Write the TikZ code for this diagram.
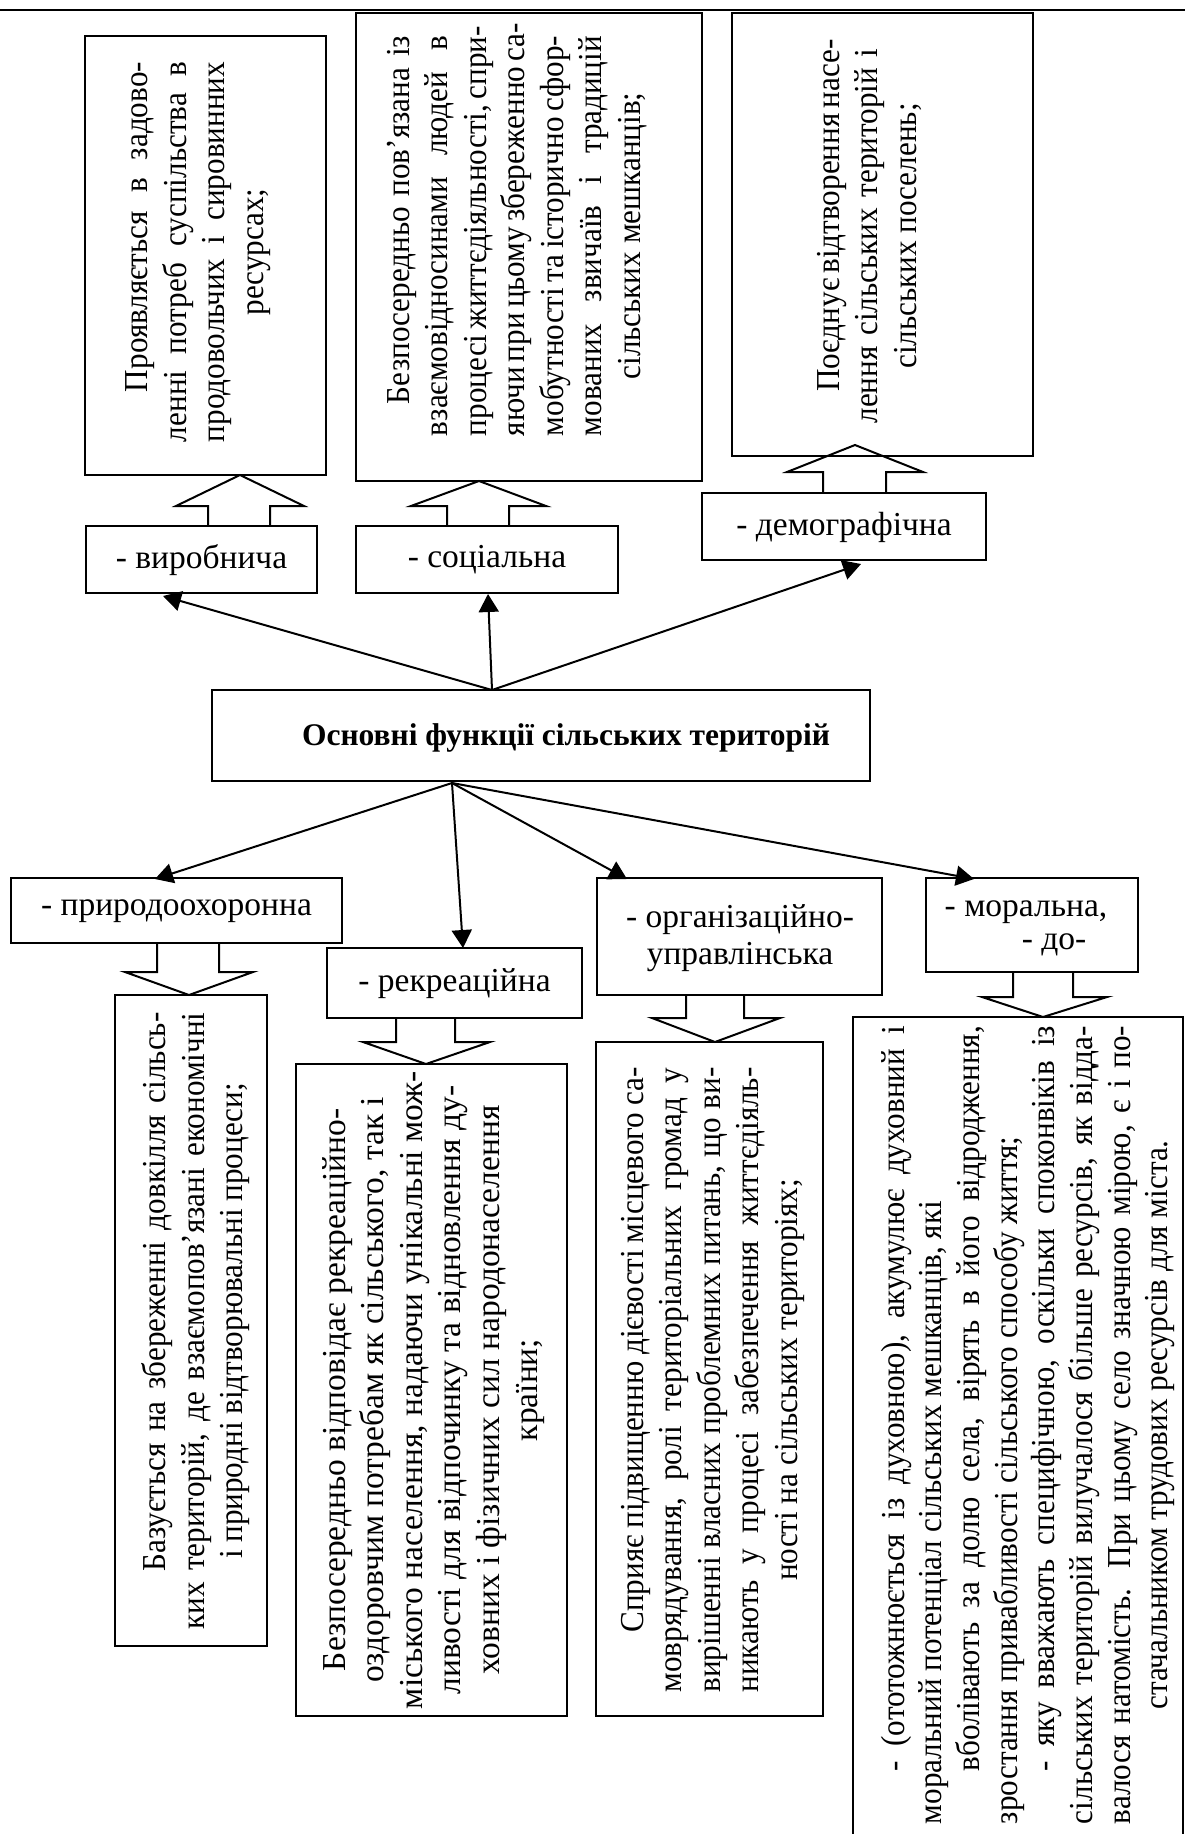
\documentclass[tikz,border=0pt]{standalone}
\usepackage{fontspec}
\setmainfont{Liberation Serif}
\newfontfamily\descfont[FakeStretch=0.93]{Liberation Serif}
\newfontfamily\descfontn{Liberation Serif}
\usetikzlibrary{arrows.meta}
\newcommand\linej[1]{\hbox to \hsize{#1}}
\newcommand\linei[2][50pt]{\hbox to \hsize{\hskip #1\relax #2}}
\newcommand\linec[1]{\hbox to \hsize{\hfil #1\hfil}}
\newcommand\linel[1]{\hbox to \hsize{#1\hfil}}
\newcommand\dlines[2]{\vbox{\hsize=#1pt\relax #2}}
\newcommand\dfont{\descfont\fontsize{33.5}{38.5}\selectfont}
\begin{document}
\begin{tikzpicture}[x=1pt,y=-1pt,
  bx/.style 2 args={draw,line width=2pt,inner sep=0pt,minimum width=#1pt,minimum height=#2pt},
  desc/.style={rotate=90,inner sep=0pt,font=\dfont},
  lab/.style={inner sep=0pt,font=\fontsize{33.5}{37}\selectfont},
  arr/.style={line width=2pt,-{Triangle[length=18pt,width=20pt]}},
  blk/.style={draw,fill=white,line width=2pt,line join=miter}]
\useasboundingbox (0,0) rectangle (1185,1834);
\fill[white] (0,0) rectangle (1185,1834);
\clip (0,0) rectangle (1185,1834);
% header rule
\coordinate (hl) at (0,10);
\coordinate (hr) at (1185,10);
\draw[line width=2.5pt] (hl) -- (hr);

% block arrows (up)
\draw[blk] (208,526) -- (208,506) -- (176,506) -- (240,475) -- (304,506) -- (270,506) -- (270,526);
\draw[blk] (447,526) -- (447,506) -- (411,506) -- (479,481) -- (546,506) -- (509,506) -- (509,526);
\draw[blk] (823,493) -- (823,472) -- (787,472) -- (855,445) -- (923,472) -- (886,472) -- (886,493);
% block arrows (down)
\draw[blk] (157,943) -- (157,972) -- (125,972) -- (189,995) -- (253,972) -- (219,972) -- (219,943);
\draw[blk] (396,1018) -- (396,1042) -- (363,1042) -- (426,1064) -- (490,1042) -- (455,1042) -- (455,1018);
\draw[blk] (686,995) -- (686,1018) -- (652,1018) -- (715,1042) -- (780,1018) -- (744,1018) -- (744,995);
\draw[blk] (1013,972) -- (1013,997) -- (982,997) -- (1043,1017) -- (1107,997) -- (1073,997) -- (1073,972);

% top description boxes
\node[bx={241}{439}] (A) at (205.5,255.5) {};
\node[bx={346}{468}] (B) at (529,247) {};
\node[bx={301}{443}] (C) at (882.5,234.5) {};
\node[desc] (tA) at (198,252) {\dlines{380}{%
\linei{Проявляється в задово-}%
\linej{ленні потреб суспільства в}%
\linej{продовольчих і сировинних}%
\linec{ресурсах;}}};
\node[desc] (tB) at (517,236) {\dlines{400}{%
\linei[32pt]{Безпосередньо пов’язана із}%
\linej{взаємовідносинами людей в}%
\linej{процесі життєдіяльності, спри-}%
\linej{яючи при цьому збереженно са-}%
\linej{мобутності та історично сфор-}%
\linej{мованих звичаїв і традицій}%
\linec{сільських мешканців;}}};
\node[desc] (tC) at (869,236) {\dlines{375}{%
\linei[32pt]{Поєднує відтворення насе-}%
\linej{лення сільських територій і}%
\linec{сільських поселень;}}};

% function label boxes (top)
\node[bx={231}{67}] (vyr) at (201.5,559.5) {};
\node[lab] at (201.5,560) {- виробнича};
\node[bx={262}{67}] (soc) at (487,559.5) {};
\node[lab] at (487,560) {- соціальна};
\node[bx={284}{67}] (dem) at (844,526.5) {};
\node[lab] at (844,527) {- демографічна};

% main box
\node[bx={658}{91}] (main) at (541,735.5) {};
\node[inner sep=0pt,font=\bfseries\fontsize{31.5}{36}\selectfont] (mt) at (566,738) {Основні функції сільських територій};

% lower label boxes
\node[bx={331}{65}] (pryr) at (176.5,910.5) {};
\node[lab] at (176.5,911) {- природоохоронна};
\node[bx={255}{70}] (rekr) at (454.5,983) {};
\node[lab] at (454.5,984) {- рекреаційна};
\node[bx={285}{117}] (org) at (739.5,936.5) {};
\node[lab] at (740,920) {- організаційно-};
\node[lab] at (740,957) {управлінська};
\node[bx={212}{94}] (mor) at (1032,925) {};
\node[lab] at (1026,912) {- моральна,};
\node[lab] at (1054,945) {- до-};

% lower description boxes
\node[bx={152}{651}] (dpryr) at (191,1320.5) {};
\node[bx={271}{652}] (drekr) at (431.5,1390) {};
\node[bx={227}{674}] (dorg) at (709.5,1379) {};
\node[bx={330}{900}] (dmor) at (1018,1467) {};

\node[desc] (tpryr) at (196,1321) {\dlines{617}{%
\linei[58pt]{Базується на збереженні довкілля сільсь-}%
\linej{ких територій, де взаємопов’язані економічні}%
\linec{і природні відтворювальні процеси;}}};
\node[desc,font=\descfontn\fontsize{33.5}{38.5}\selectfont] (trekr) at (433.5,1390) {\dlines{640}{%
\linec{Безпосередньо відповідає рекреаційно-}%
\linec{оздоровчим потребам як сільського, так і}%
\linec{міського населення, надаючи унікальні мож-}%
\linec{ливості для відпочинку та відновлення ду-}%
\linec{ховних і фізичних сил народонаселення}%
\linec{країни;}}};
\node[desc] (torg) at (712.5,1380) {\dlines{625}{%
\linei[60pt]{Сприяє підвищенню дієвості місцевого са-}%
\linej{моврядування, ролі територіальних громад у}%
\linej{вирішенні власних проблемних питань, що ви-}%
\linej{никають у процесі забезпечення життєдіяль-}%
\linec{ності на сільських територіях;}}};
\node[desc,font=\descfont\fontsize{33.5}{37.7}\selectfont] (tmor) at (1028,1425) {\dlines{798}{%
\linei[53pt]{- (ототожнюється із духовною), акумулює духовний і}%
\linel{моральний потенціал сільських мешканців, які}%
\linei[53pt]{вболівають за долю села, вірять в його відродження,}%
\linel{зростання привабливості сільського способу життя;}%
\linei[53pt]{- яку вважають специфічною, оскільки споконвіків із}%
\linej{сільських територій вилучалося більше ресурсів, як відда-}%
\linej{валося натомість. При цьому село значною мірою, є і по-}%
\linec{стачальником трудових ресурсів для міста.}}};

% connectors
\coordinate (o1) at (492,690);
\coordinate (t1) at (163,596);
\coordinate (t2) at (488,594);
\coordinate (t3) at (861,564);
\coordinate (o2) at (452,783);
\coordinate (t4) at (155,879);
\coordinate (t5) at (463,948);
\coordinate (t6) at (627,879);
\coordinate (t7) at (974,879);
\draw[arr] (o1) -- (t1);
\draw[arr] (o1) -- (t2);
\draw[arr] (o1) -- (t3);
\draw[arr] (o2) -- (t4);
\draw[arr] (o2) -- (t5);
\draw[arr] (o2) -- (t6);
\draw[arr] (o2) -- (t7);
\end{tikzpicture}
\end{document}
